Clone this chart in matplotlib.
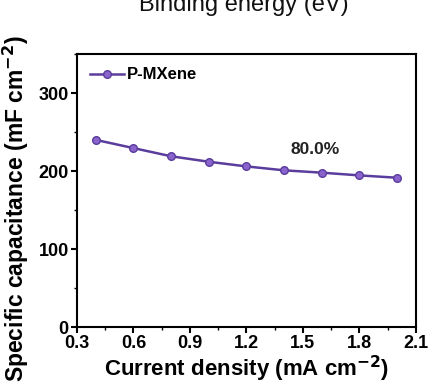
import matplotlib.pyplot as plt
from matplotlib.ticker import MultipleLocator

plt.rcParams['font.family'] = ['Liberation Sans', 'DejaVu Sans']
plt.rcParams['font.weight'] = 'bold'
plt.rcParams['mathtext.default'] = 'bf'

current = [0.4, 0.6, 0.8, 1.0, 1.2, 1.4, 1.6, 1.8, 2.0]
capacitance = [240, 229.5, 219, 212, 206, 201, 198, 194.5, 191.5]
retention = '80.0%'

fig = plt.figure(figsize=(4.35, 3.89), dpi=100)
ax = fig.add_axes([0.177, 0.159, 0.779, 0.702])

ax.plot(current, capacitance, '-o', color='#5a3d9c', lw=1.8,
        markersize=5.5, markerfacecolor='#8a63cc', markeredgecolor='#5a3d9c',
        label='P-MXene')
ax.text(1.565, 222, retention, fontsize=12.5, fontweight='bold', ha='center',
        color='#222222')

ax.set_xlim(0.3, 2.1)
ax.set_ylim(0, 350)
ax.set_xticks([0.3, 0.6, 0.9, 1.2, 1.5, 1.8, 2.1])
ax.set_yticks([0, 100, 200, 300])
ax.xaxis.set_minor_locator(MultipleLocator(0.15))
ax.yaxis.set_minor_locator(MultipleLocator(50))
ax.tick_params(which='major', length=4, width=1.5, labelsize=13, pad=2)
ax.tick_params(which='minor', length=2, width=1)
for lab in ax.get_xticklabels() + ax.get_yticklabels():
    lab.set_fontweight('bold')
for s in ax.spines.values():
    s.set_linewidth(1.5)

ax.set_xlabel('Current density (mA cm$^{-2}$)', fontsize=16, fontweight='bold', labelpad=1)
ax.set_ylabel('Specific capacitance (mF cm$^{-2}$)', fontsize=16.5, fontweight='bold')
ax.yaxis.set_label_coords(-0.135, 0.435)

ax.legend(loc='upper left', frameon=False, handlelength=2.0,
          borderaxespad=0.4, handletextpad=0.2, prop={'weight': 'bold', 'size': 12})

fig.text(0.56, 0.972, 'Binding energy (eV)', fontsize=17, ha='center', va='baseline',
         color='#111111', fontweight='normal')

fig.savefig('out.png', dpi=100)
